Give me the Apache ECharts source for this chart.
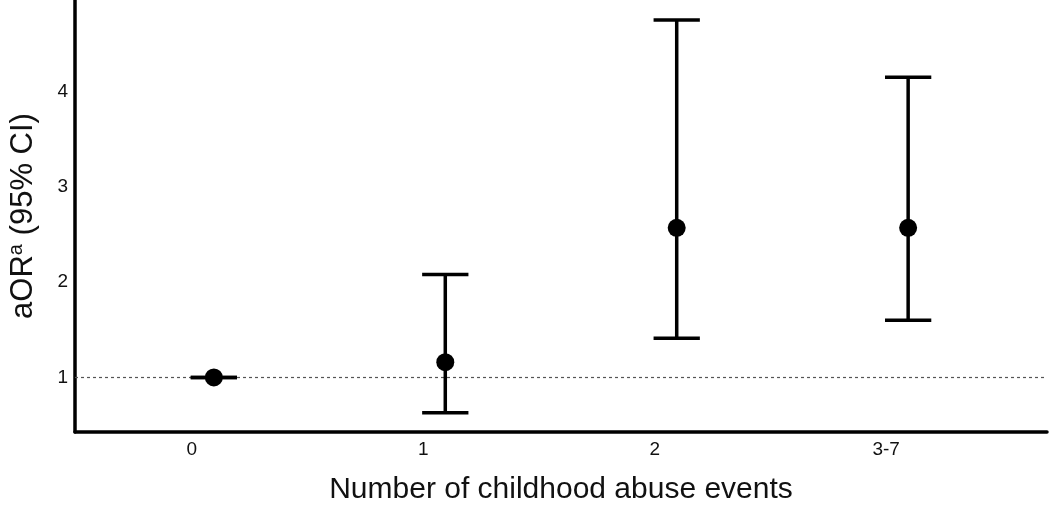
<!DOCTYPE html>
<html>
<head>
<meta charset="utf-8">
<script src="https://cdn.jsdelivr.net/npm/echarts@6/dist/echarts.min.js"></script>
<style>html,body{margin:0;padding:0;background:#fff}#c{width:1050px;height:505px}</style>
</head>
<body>
<div id="c"></div>
<script>
// Data
const categories = ['0', '1', '2', '3-7'];
const estimates = [1.00, 1.16, 2.57, 2.57];
const lowerCI = [1.00, 0.63, 1.41, 1.60];
const upperCI = [1.00, 2.08, 4.75, 4.15];
const yTicks = [1, 2, 3, 4];
const referenceValue = 1;

const positions = categories.map((c, i) => i + 1);
const barData = positions.map((p, i) => [p, lowerCI[i], upperCI[i]]);
const pointData = positions.map((p, i) => [p, estimates[i]]);
const labelOffset = 0.095; // tick labels sit slightly left of the marks in the reference

const chart = echarts.init(document.getElementById('c'), null, {renderer: 'canvas'});
const FONT = '"Liberation Sans", Arial, sans-serif';

chart.setOption({
  animation: false,
  backgroundColor: '#fff',
  grid: {left: 75, right: 3, top: 0, bottom: 73, containLabel: false, outerBoundsMode: 'none'},
  xAxis: {
    type: 'value', min: 0.4, max: 4.6,
    name: 'Number of childhood abuse events',
    nameLocation: 'middle', nameGap: 43,
    nameTextStyle: {fontFamily: FONT, fontSize: 30, color: '#111'},
    axisLine: {show: true, onZero: false, lineStyle: {color: '#000', width: 3.5}},
    axisTick: {show: false},
    splitLine: {show: false},
    axisLabel: {
      customValues: positions.map(p => p - labelOffset),
      formatter: v => categories[Math.round(v + labelOffset) - 1] || '',
      fontFamily: FONT, fontSize: 19, color: '#111', margin: 8
    }
  },
  yAxis: {
    type: 'value', min: 0.427, max: 4.96,
    name: '{a|aOR}{s|a}{a| (95% CI)}',
    nameLocation: 'middle', nameGap: 35, nameRotate: 90,
    nameTextStyle: {
      fontFamily: FONT, fontSize: 31, color: '#111',
      rich: {
        a: {fontFamily: FONT, fontSize: 31, color: '#111'},
        s: {fontFamily: FONT, fontSize: 20, color: '#111', verticalAlign: 'top', padding: [0, 0, 14, 0]}
      }
    },
    axisLine: {show: true, onZero: false, lineStyle: {color: '#000', width: 3.5}},
    axisTick: {show: false},
    splitLine: {show: false},
    axisLabel: {
      customValues: yTicks,
      fontFamily: FONT, fontSize: 19, color: '#111', margin: 7
    }
  },
  series: [
    {
      type: 'custom',
      data: barData,
      encode: {x: 0, y: [1, 2]},
      renderItem: function (params, api) {
        const x = api.value(0);
        const lo = api.coord([x, api.value(1)]);
        const hi = api.coord([x, api.value(2)]);
        const half = 0.1;
        const l1 = api.coord([x - half, api.value(1)]);
        const r1 = api.coord([x + half, api.value(1)]);
        const l2 = api.coord([x - half, api.value(2)]);
        const r2 = api.coord([x + half, api.value(2)]);
        const st = {stroke: '#000', lineWidth: 3.5, fill: null};
        return {
          type: 'group',
          children: [
            {type: 'line', shape: {x1: lo[0], y1: lo[1], x2: hi[0], y2: hi[1]}, style: st},
            {type: 'line', shape: {x1: l1[0], y1: l1[1], x2: r1[0], y2: r1[1]}, style: st},
            {type: 'line', shape: {x1: l2[0], y1: l2[1], x2: r2[0], y2: r2[1]}, style: st}
          ]
        };
      },
      z: 3
    },
    {
      type: 'scatter',
      data: pointData,
      symbol: 'circle',
      symbolSize: 18,
      itemStyle: {color: '#000', opacity: 1},
      z: 4,
      markLine: {
        silent: true,
        symbol: 'none',
        label: {show: false},
        lineStyle: {color: '#555', width: 1.2, type: [3, 3]},
        data: [{yAxis: referenceValue}],
        z: 1
      }
    }
  ]
});
</script>
</body>
</html>
